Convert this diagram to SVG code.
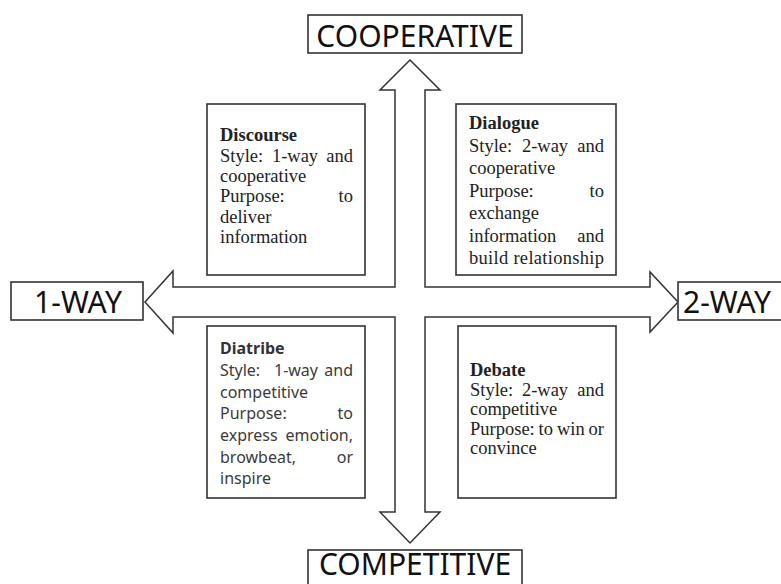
<svg xmlns="http://www.w3.org/2000/svg" width="781" height="584" viewBox="0 0 781 584">
<style>
.box{fill:#fff;stroke:#333;stroke-width:1.6}
.lbl{font-family:"Noto Sans","Open Sans",sans-serif;font-size:30px;fill:#111}
.ser{font-family:"Liberation Serif","Times New Roman",serif;font-size:18.5px;fill:#222}
.ser .t{font-weight:bold}
.san{font-family:"Noto Sans","Open Sans",sans-serif;font-size:16px;fill:#3a3a3a}
.san .t{font-weight:bold;fill:#333}
.arr{fill:#fff;stroke:#333;stroke-width:1.5;stroke-linejoin:miter}
.m{text-anchor:middle}
.e{text-anchor:end}
</style>
<rect width="781" height="584" fill="#fff"/>
<g id="connectors">
<path class="arr" d="M410,60 L440,90 L425,90 L425,287 L650,287 L650,272 L678,302 L650,332 L650,317 L425,317 L425,512 L440,512 L410,543 L380,512 L395,512 L395,317 L173,317 L173,333 L145,302 L173,271 L173,287 L395,287 L395,90 L380,90 Z"/>
</g>
<g id="cooperative">
<rect class="box" x="308" y="15" width="214" height="38"/>
<text class="lbl" x="415" y="46.5" text-anchor="middle">COOPERATIVE</text>
</g>
<g id="competitive">
<rect class="box" x="308" y="550" width="214" height="40"/>
<text class="lbl" x="415" y="575" text-anchor="middle" font-size="28">COMPETITIVE</text>
</g>
<g id="one-way">
<rect class="box" x="11" y="282" width="132" height="38"/>
<text class="lbl" x="78" y="313" text-anchor="middle">1-WAY</text>
</g>
<g id="two-way">
<rect class="box" x="678" y="282" width="120" height="38"/>
<text class="lbl" x="683" y="313">2-WAY</text>
</g>
<g id="discourse">
<rect class="box" x="207" y="104" width="158" height="171"/>
<g class="ser">
<text class="t" x="220" y="141">Discourse</text>
<text x="220" y="161.5">Style:</text><text class="m" x="295" y="161.5">1-way</text><text class="e" x="353" y="161.5">and</text>
<text x="220" y="182">cooperative</text>
<text x="220" y="202">Purpose:</text><text class="e" x="353" y="202">to</text>
<text x="220" y="222.5">deliver</text>
<text x="220" y="243">information</text>
</g>
</g>
<g id="dialogue">
<rect class="box" x="456" y="104" width="160" height="171"/>
<g class="ser">
<text class="t" x="469" y="129">Dialogue</text>
<text x="469" y="151.5">Style:</text><text class="m" x="545" y="151.5">2-way</text><text class="e" x="604" y="151.5">and</text>
<text x="469" y="174">cooperative</text>
<text x="469" y="196.5">Purpose:</text><text class="e" x="604" y="196.5">to</text>
<text x="469" y="219">exchange</text>
<text x="469" y="241.5">information</text><text class="e" x="604" y="241.5">and</text>
<text x="469" y="264" textLength="135" lengthAdjust="spacing">build relationship</text>
</g>
</g>
<g id="diatribe">
<rect class="box" x="207" y="326" width="158" height="172"/>
<g class="san">
<text class="t" x="220" y="354">Diatribe</text>
<text x="220" y="376">Style:</text><text class="m" x="296" y="376">1-way</text><text class="e" x="353" y="376">and</text>
<text x="220" y="397.5">competitive</text>
<text x="220" y="419">Purpose:</text><text class="e" x="353" y="419">to</text>
<text x="220" y="441">express</text><text class="e" x="353" y="441">emotion,</text>
<text x="220" y="462.5">browbeat,</text><text class="e" x="353" y="462.5">or</text>
<text x="220" y="484">inspire</text>
</g>
</g>
<g id="debate">
<rect class="box" x="458" y="326" width="158" height="172"/>
<g class="ser">
<text class="t" x="470" y="376">Debate</text>
<text x="470" y="395.5">Style:</text><text class="m" x="545" y="395.5">2-way</text><text class="e" x="604" y="395.5">and</text>
<text x="470" y="415">competitive</text>
<text x="470" y="434.5">Purpose:</text><text x="538.5" y="434.5">to</text><text x="557" y="434.5">win</text><text class="e" x="604" y="434.5">or</text>
<text x="470" y="454">convince</text>
</g>
</g>
</svg>
